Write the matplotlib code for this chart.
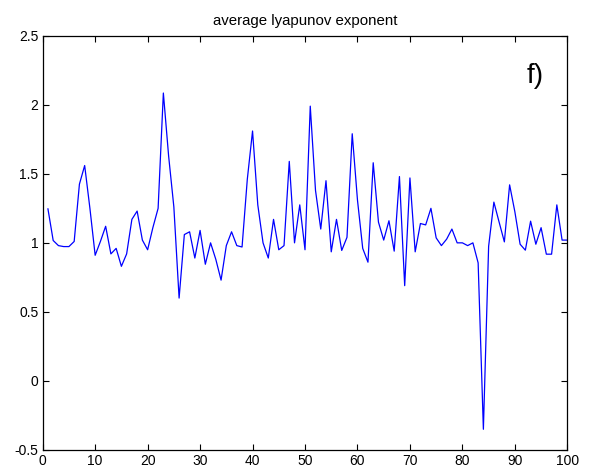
import matplotlib
matplotlib.use("Agg")
import matplotlib.pyplot as plt
from matplotlib.ticker import FuncFormatter

plt.rcParams['font.family'] = ['Liberation Sans', 'DejaVu Sans']
plt.rcParams['axes.unicode_minus'] = False

x_values = list(range(1, 101))
lyapunov = [
    1.246, 1.017, 0.98, 0.973, 0.973, 1.01, 1.425, 1.56, 1.25, 0.91,
    1.01, 1.12, 0.92, 0.96, 0.83, 0.92, 1.17, 1.23, 1.02, 0.95,
    1.11, 1.25, 2.085, 1.63, 1.26, 0.60, 1.06, 1.08, 0.89, 1.09,
    0.845, 1.00, 0.88, 0.73, 0.98, 1.08, 0.98, 0.97, 1.46, 1.81,
    1.275, 1.00, 0.89, 1.17, 0.95, 0.98, 1.59, 1.00, 1.275, 0.95,
    1.99, 1.38, 1.10, 1.45, 0.935, 1.17, 0.945, 1.04, 1.79, 1.31,
    0.96, 0.86, 1.58, 1.15, 1.02, 1.16, 0.94, 1.48, 0.69, 1.47,
    0.935, 1.14, 1.13, 1.25, 1.036, 0.98, 1.027, 1.10, 1.0, 1.0,
    0.98, 1.0, 0.855, -0.35, 0.975, 1.295, 1.15, 1.007, 1.42, 1.225,
    0.99, 0.947, 1.157, 0.99, 1.11, 0.918, 0.918, 1.275, 1.02, 1.02,
]
x_ticks = [0, 10, 20, 30, 40, 50, 60, 70, 80, 90, 100]
y_ticks = [-0.5, 0, 0.5, 1, 1.5, 2, 2.5]
title_text = "average lyapunov exponent"
panel_label = "f)"

fig = plt.figure(figsize=(5.93, 4.70), dpi=100)
ax = fig.add_axes([0.072, 0.0426, 0.8847, 0.8814])
ax.plot(x_values, lyapunov, color=(0, 0, 1), lw=0.9)
ax.set_xlim(0, 100)
ax.set_ylim(-0.5, 2.5)
ax.set_xticks(x_ticks)
ax.set_yticks(y_ticks)
ax.yaxis.set_major_formatter(FuncFormatter(lambda v, p: "%g" % v))
ax.tick_params(direction='in', length=4, width=0.8, top=True, right=True,
               labelsize=10, pad=3, colors='black')
for s in ax.spines.values():
    s.set_linewidth(0.9)
ax.set_title(title_text, fontsize=10.8, pad=7.5)
ax.text(92.3, 2.16, panel_label, fontsize=20)
fig.savefig("out.png", dpi=100)
